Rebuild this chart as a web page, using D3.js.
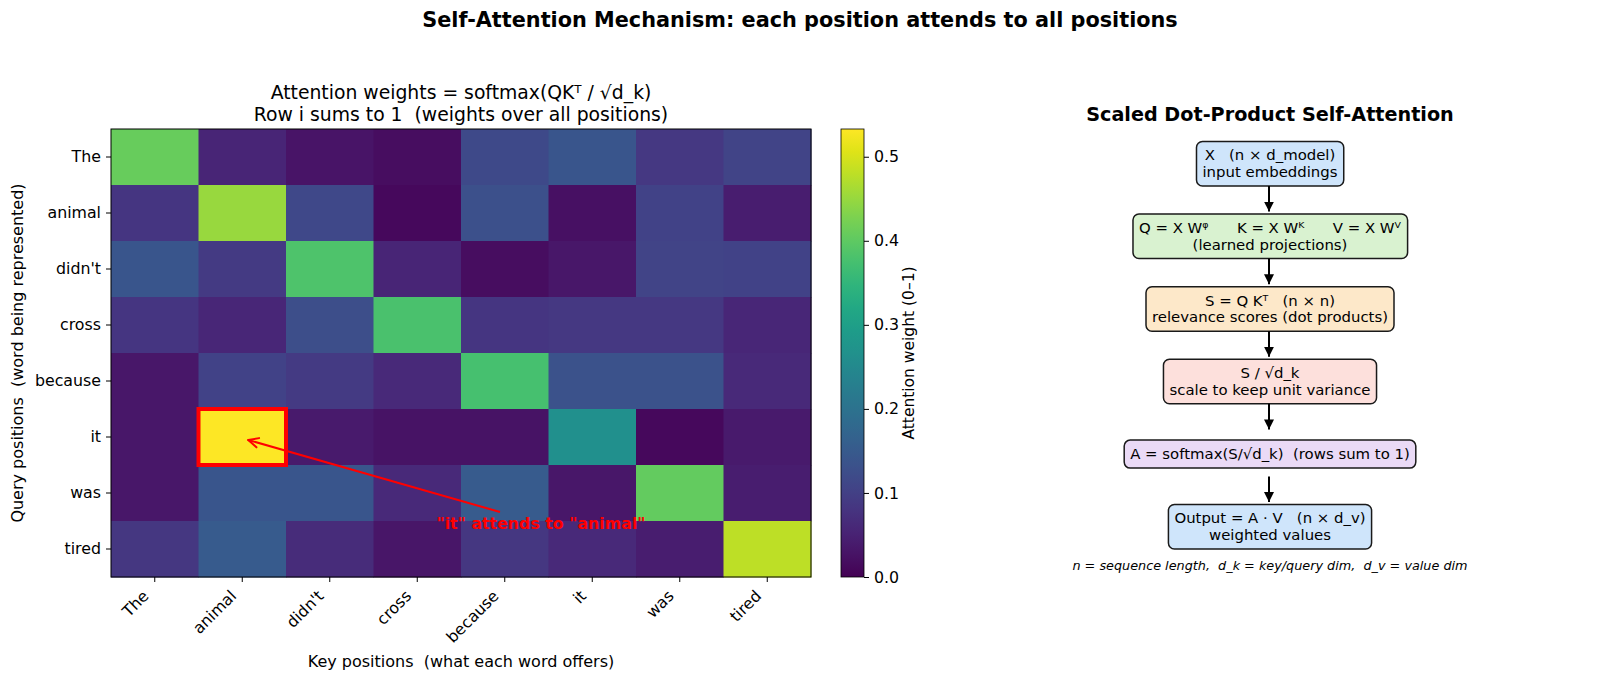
<!DOCTYPE html>
<html>
<head>
<meta charset="utf-8">
<script src="https://cdn.jsdelivr.net/npm/d3@7"></script>
<style>
  html, body { margin: 0; padding: 0; background: #fff; }
  svg { display: block; font-family: "DejaVu Sans", sans-serif; }
  text { white-space: pre; }
</style>
</head>
<body>
<div id="chart"></div>
<script>
// tokens (keys on x, queries on y)
const tokens = ["The", "animal", "didn't", "cross", "because", "it", "was", "tired"];

// attention weights, one row per query token (rows ~sum to 1)
const rowThe     = [0.410, 0.055, 0.028, 0.018, 0.118, 0.140, 0.086, 0.108];
const rowAnimal  = [0.082, 0.450, 0.116, 0.012, 0.130, 0.022, 0.106, 0.042];
const rowDidnt   = [0.140, 0.090, 0.385, 0.056, 0.018, 0.032, 0.107, 0.106];
const rowCross   = [0.082, 0.057, 0.125, 0.380, 0.082, 0.086, 0.086, 0.057];
const rowBecause = [0.032, 0.105, 0.090, 0.062, 0.375, 0.135, 0.135, 0.062];
const rowIt      = [0.032, 0.533, 0.036, 0.026, 0.026, 0.265, 0.012, 0.036];
const rowWas     = [0.032, 0.140, 0.140, 0.062, 0.150, 0.032, 0.405, 0.042];
const rowTired   = [0.085, 0.150, 0.065, 0.030, 0.085, 0.062, 0.042, 0.480];
const weights = [rowThe, rowAnimal, rowDidnt, rowCross, rowBecause, rowIt, rowWas, rowTired];

const colorbarTicks = [0.0, 0.1, 0.2, 0.3, 0.4, 0.5];
const highlight = { query: "it", key: "animal", note: '"it" attends to "animal"' };

// pipeline diagram
const stepLines = [
  ["X   (n \u00d7 d_model)", "input embeddings"],
  ["Q = X W\u1d60      K = X W\u1d37      V = X W\u2c7d", "(learned projections)"],
  ["S = Q K\u1d40   (n \u00d7 n)", "relevance scores (dot products)"],
  ["S / \u221ad_k", "scale to keep unit variance"],
  ["A = softmax(S/\u221ad_k)  (rows sum to 1)"],
  ["Output = A \u00b7 V   (n \u00d7 d_v)", "weighted values"]
];
const stepFills = ["#cfe5fb", "#d9f2d0", "#fde8c9", "#fde0dc", "#eadaf6", "#cfe5fb"];
const footnote = "n = sequence length,  d_k = key/query dim,  d_v = value dim";

const W = 1600, H = 681;
const tickFs = 15.8, labelFs = 16;
const svg = d3.select("#chart").append("svg").attr("width", W).attr("height", H);

svg.append("text").attr("x", 800).attr("y", 27)
  .attr("text-anchor", "middle").attr("font-size", 20.8).attr("font-weight", "bold")
  .text("Self-Attention Mechanism: each position attends to all positions");

// ---------- heatmap ----------
const hm = { left: 111, right: 811, top: 129, bottom: 577 };
const cells = [];
weights.forEach((row, i) => row.forEach((v, j) => cells.push({ q: tokens[i], k: tokens[j], v })));
const vmax = d3.max(cells, d => d.v);

const x = d3.scaleBand().domain(tokens).range([hm.left, hm.right]);
const y = d3.scaleBand().domain(tokens).range([hm.top, hm.bottom]);
const color = d3.scaleSequential(d3.interpolateViridis).domain([0, vmax]);

svg.append("g").selectAll("rect").data(cells).enter().append("rect")
  .attr("x", d => x(d.k)).attr("y", d => y(d.q))
  .attr("width", x.bandwidth() + 0.5).attr("height", y.bandwidth() + 0.5)
  .attr("fill", d => color(d.v));

svg.append("rect").attr("x", hm.left).attr("y", hm.top)
  .attr("width", hm.right - hm.left).attr("height", hm.bottom - hm.top)
  .attr("fill", "none").attr("stroke", "#000").attr("stroke-width", 1);

const xAxis = svg.append("g").attr("transform", `translate(0,${hm.bottom})`)
  .call(d3.axisBottom(x).tickSize(5).tickPadding(5));
xAxis.select(".domain").remove();
xAxis.selectAll("text")
  .attr("font-size", tickFs).attr("font-family", "DejaVu Sans").attr("fill", "#000")
  .attr("text-anchor", "end").attr("dy", null).attr("y", null)
  .attr("transform", "translate(-5,20) rotate(-45)");

const yAxis = svg.append("g").attr("transform", `translate(${hm.left},0)`)
  .call(d3.axisLeft(y).tickSize(5).tickPadding(5));
yAxis.select(".domain").remove();
yAxis.selectAll("text").attr("font-size", tickFs).attr("font-family", "DejaVu Sans").attr("fill", "#000");

svg.append("text").attr("x", (hm.left + hm.right) / 2).attr("y", 99.3)
  .attr("text-anchor", "middle").attr("font-size", 18.8)
  .text("Attention weights = softmax(QK\u1d40 / \u221ad_k)");
svg.append("text").attr("x", (hm.left + hm.right) / 2).attr("y", 121)
  .attr("text-anchor", "middle").attr("font-size", 18.8)
  .text("Row i sums to 1  (weights over all positions)");

svg.append("text").attr("transform", `translate(23,${(hm.top + hm.bottom) / 2}) rotate(-90)`)
  .attr("text-anchor", "middle").attr("font-size", labelFs)
  .text("Query positions  (word being represented)");
svg.append("text").attr("x", (hm.left + hm.right) / 2).attr("y", 667)
  .attr("text-anchor", "middle").attr("font-size", labelFs)
  .text("Key positions  (what each word offers)");

// highlight + annotation
svg.append("rect")
  .attr("x", x(highlight.key)).attr("y", y(highlight.query))
  .attr("width", x.bandwidth()).attr("height", y.bandwidth())
  .attr("fill", "none").attr("stroke", "red").attr("stroke-width", 4);

const tip = [x(highlight.key) + x.bandwidth() / 2 + 6, y(highlight.query) + y.bandwidth() / 2 + 3];
const tail = [500, 512];
svg.append("line").attr("x1", tail[0]).attr("y1", tail[1]).attr("x2", tip[0]).attr("y2", tip[1])
  .attr("stroke", "red").attr("stroke-width", 2);
const ang = Math.atan2(tail[1] - tip[1], tail[0] - tip[0]);
[-0.45, 0.45].forEach(da => {
  svg.append("line").attr("x1", tip[0]).attr("y1", tip[1])
    .attr("x2", tip[0] + 11 * Math.cos(ang + da)).attr("y2", tip[1] + 11 * Math.sin(ang + da))
    .attr("stroke", "red").attr("stroke-width", 2).attr("stroke-linecap", "round");
});
svg.append("text").attr("x", 541).attr("y", 528.5)
  .attr("text-anchor", "middle").attr("font-size", 15.8).attr("font-weight", "bold").attr("fill", "red")
  .text(highlight.note);

// ---------- colorbar ----------
const cb = { left: 841, right: 864, top: hm.top, bottom: hm.bottom };
const grad = svg.append("defs").append("linearGradient").attr("id", "viridis")
  .attr("x1", 0).attr("y1", 1).attr("x2", 0).attr("y2", 0);
d3.range(0, 1.0001, 0.05).forEach(t => {
  grad.append("stop").attr("offset", t).attr("stop-color", d3.interpolateViridis(t));
});
svg.append("rect").attr("x", cb.left).attr("y", cb.top)
  .attr("width", cb.right - cb.left).attr("height", cb.bottom - cb.top)
  .attr("fill", "url(#viridis)").attr("stroke", "#000").attr("stroke-width", 0.8);
const cbScale = d3.scaleLinear().domain([0, vmax]).range([cb.bottom, cb.top]);
const cbAxis = svg.append("g").attr("transform", `translate(${cb.right},0)`)
  .call(d3.axisRight(cbScale).tickValues(colorbarTicks).tickFormat(d3.format(".1f")).tickSize(5).tickPadding(5));
cbAxis.select(".domain").remove();
cbAxis.selectAll("text").attr("font-size", tickFs).attr("font-family", "DejaVu Sans").attr("fill", "#000");
svg.append("text").attr("transform", `translate(914,${(cb.top + cb.bottom) / 2}) rotate(-90)`)
  .attr("text-anchor", "middle").attr("font-size", 15.5)
  .text("Attention weight (0\u20131)");

// ---------- pipeline diagram ----------
const cx = 1270, firstY = 163.5, stepGap = 72.6, fs = 14.9, lineGap = 16.5, padX = 6, padY = 5;
svg.append("text").attr("x", cx).attr("y", 121)
  .attr("text-anchor", "middle").attr("font-size", 19.2).attr("font-weight", "bold")
  .text("Scaled Dot-Product Self-Attention");

const centers = stepLines.map((_, i) => firstY + i * stepGap);
stepLines.forEach((lines, i) => {
  const g = svg.append("g");
  const box = g.append("rect");
  const t = g.append("text").attr("text-anchor", "middle").attr("font-size", fs);
  const y0 = centers[i] - (lines.length - 1) * lineGap / 2;
  lines.forEach((ln, k) => {
    t.append("tspan").attr("x", cx).attr("y", y0 + k * lineGap).attr("dy", "0.35em").text(ln);
  });
  const bb = t.node().getBBox();
  box.attr("x", bb.x - padX).attr("y", bb.y - padY)
    .attr("width", bb.width + 2 * padX).attr("height", bb.height + 2 * padY)
    .attr("rx", 6).attr("fill", stepFills[i]).attr("stroke", "#1a1a1a").attr("stroke-width", 1.5);
});

const arrowDefs = svg.select("defs").append("marker").attr("id", "head")
  .attr("viewBox", "0 0 10 10").attr("refX", 10).attr("refY", 5)
  .attr("markerWidth", 5).attr("markerHeight", 5).attr("markerUnits", "strokeWidth").attr("orient", "auto");
arrowDefs.append("path").attr("d", "M0,0 L10,5 L0,10 z").attr("fill", "#000");
d3.range(stepLines.length - 1).forEach(i => {
  svg.append("line").attr("x1", cx - 1).attr("x2", cx - 1)
    .attr("y1", centers[i] + 22.5).attr("y2", centers[i + 1] - 24.5)
    .attr("stroke", "#000").attr("stroke-width", 2).attr("marker-end", "url(#head)");
});

svg.append("text").attr("x", cx).attr("y", 570)
  .attr("text-anchor", "middle").attr("font-size", 12.8).attr("font-style", "italic")
  .text(footnote);
</script>
</body>
</html>
